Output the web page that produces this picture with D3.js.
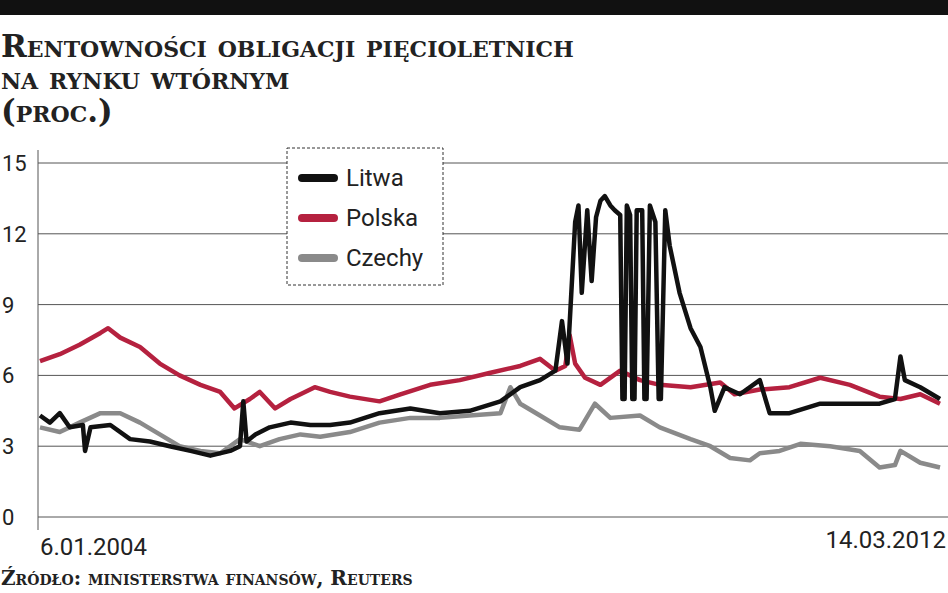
<!DOCTYPE html>
<html><head><meta charset="utf-8">
<script src="https://cdn.jsdelivr.net/npm/d3@7"></script>
<style>body{margin:0;background:#fff}</style></head><body>
<svg id="c" width="948" height="593"></svg>
<script>
const yTicks=[0,3,6,9,12,15];
const xLabels=["6.01.2004","14.03.2012"];
const seriesNames=["Litwa","Polska","Czechy"];
const seriesColors=["#111111","#b5213f","#8a8a8a"];
const litwa=[[2004.01,4.3],[2004.10,4.0],[2004.19,4.4],[2004.28,3.8],[2004.40,3.9],[2004.42,2.8],[2004.47,3.8],[2004.65,3.9],[2004.83,3.3],[2005.01,3.2],[2005.19,3.0],[2005.38,2.8],[2005.56,2.6],[2005.74,2.8],[2005.83,3.0],[2005.86,4.9],[2005.89,3.2],[2005.97,3.5],[2006.10,3.8],[2006.29,4.0],[2006.47,3.9],[2006.65,3.9],[2006.83,4.0],[2007.10,4.4],[2007.38,4.6],[2007.65,4.4],[2007.92,4.5],[2008.20,4.9],[2008.38,5.5],[2008.56,5.8],[2008.70,6.2],[2008.76,8.3],[2008.81,6.5],[2008.88,12.5],[2008.91,13.2],[2008.94,9.5],[2008.99,13.0],[2009.03,10],[2009.07,12.7],[2009.11,13.4],[2009.15,13.6],[2009.20,13.2],[2009.24,13.0],[2009.29,12.8],[2009.31,5],[2009.33,5],[2009.35,13.2],[2009.38,12.8],[2009.40,5],[2009.42,5],[2009.44,13.0],[2009.49,13.0],[2009.51,5],[2009.53,5],[2009.56,13.2],[2009.61,12.5],[2009.64,5],[2009.66,5],[2009.70,13],[2009.74,11.5],[2009.83,9.5],[2009.93,8],[2010.02,7.2],[2010.11,5.5],[2010.15,4.5],[2010.24,5.5],[2010.38,5.2],[2010.56,5.8],[2010.65,4.4],[2010.83,4.4],[2011.11,4.8],[2011.38,4.8],[2011.65,4.8],[2011.79,5.0],[2011.84,6.8],[2011.88,5.8],[2012.02,5.5],[2012.20,5.0]];
const polska=[[2004.01,6.6],[2004.19,6.9],[2004.37,7.3],[2004.56,7.8],[2004.63,8.0],[2004.74,7.6],[2004.92,7.2],[2005.10,6.5],[2005.28,6.0],[2005.47,5.6],[2005.65,5.3],[2005.78,4.6],[2005.92,5.0],[2006.01,5.3],[2006.15,4.6],[2006.29,5.0],[2006.38,5.2],[2006.51,5.5],[2006.65,5.3],[2006.83,5.1],[2007.10,4.9],[2007.29,5.2],[2007.56,5.6],[2007.83,5.8],[2008.10,6.1],[2008.38,6.4],[2008.56,6.7],[2008.70,6.2],[2008.79,6.4],[2008.83,7.7],[2008.88,6.5],[2008.97,5.9],[2009.11,5.6],[2009.29,6.2],[2009.47,5.8],[2009.65,5.6],[2009.93,5.5],[2010.20,5.7],[2010.33,5.2],[2010.56,5.4],[2010.83,5.5],[2011.11,5.9],[2011.38,5.6],[2011.65,5.1],[2011.84,5.0],[2012.02,5.2],[2012.20,4.8]];
const czechy=[[2004.01,3.8],[2004.19,3.6],[2004.37,4.0],[2004.56,4.4],[2004.74,4.4],[2004.92,4.0],[2005.10,3.5],[2005.28,3.0],[2005.47,2.8],[2005.65,2.7],[2005.83,3.3],[2006.01,3.0],[2006.19,3.3],[2006.38,3.5],[2006.56,3.4],[2006.83,3.6],[2007.10,4.0],[2007.38,4.2],[2007.65,4.2],[2007.92,4.3],[2008.20,4.4],[2008.29,5.5],[2008.38,4.8],[2008.56,4.3],[2008.74,3.8],[2008.92,3.7],[2009.06,4.8],[2009.20,4.2],[2009.47,4.3],[2009.65,3.8],[2009.93,3.3],[2010.11,3.0],[2010.29,2.5],[2010.47,2.4],[2010.56,2.7],[2010.74,2.8],[2010.93,3.1],[2011.20,3.0],[2011.47,2.8],[2011.65,2.1],[2011.79,2.2],[2011.84,2.8],[2012.02,2.3],[2012.20,2.1]];

const svg=d3.select("#c");
const x=d3.scaleLinear().domain([2004.01,2012.20]).range([40,940]);
const y=d3.scaleLinear().domain([0,15]).range([517,163]);
svg.append("rect").attr("x",0).attr("y",0).attr("width",948).attr("height",15).attr("fill","#111");
const tf="DejaVu Serif";
[["Rentowności obligacji pięcioletnich",57],["na rynku wtórnym",89],["(proc.)",122]].forEach(([t,yy])=>
 svg.append("text").attr("x",1).attr("y",yy).text(t).attr("font-family",tf).attr("font-weight","bold")
 .attr("font-size",31).style("font-variant","small-caps").attr("fill","#222"));
svg.append("g").selectAll("line").data(yTicks).join("line")
 .attr("x1",38).attr("x2",948).attr("y1",d=>y(d)).attr("y2",d=>y(d)).attr("stroke","#555").attr("stroke-width",1);
const nf="'Liberation Sans Narrow','Roboto',sans-serif";
svg.append("g").selectAll("text").data(yTicks).join("text").attr("x",2).attr("y",d=>y(d)+8)
 .text(d=>d).attr("font-family",nf).attr("font-size",22).attr("fill","#222");
svg.append("line").attr("x1",38).attr("x2",38).attr("y1",150).attr("y2",530).attr("stroke","#555");
svg.append("text").attr("x",40).attr("y",555).text(xLabels[0]).attr("font-family",nf).attr("font-size",24).attr("fill","#222");
svg.append("text").attr("x",946).attr("y",548).attr("text-anchor","end").text(xLabels[1]).attr("font-family",nf).attr("font-size",24).attr("fill","#222");
const line=d3.line().x(d=>x(d[0])).y(d=>y(d[1]));
[czechy,polska,litwa].forEach((s,i)=>{
 svg.append("path").attr("d",line(s)).attr("fill","none").attr("stroke",seriesColors[2-i]).attr("stroke-width",4.5).attr("stroke-linejoin","round");
});
svg.append("rect").attr("x",287).attr("y",148).attr("width",156).attr("height",137).attr("fill","#fff")
 .attr("stroke","#333").attr("stroke-dasharray","3,2");
seriesNames.forEach((n,i)=>{
 const ly=178+i*40;
 svg.append("line").attr("x1",302).attr("x2",334).attr("y1",ly).attr("y2",ly).attr("stroke",seriesColors[i]).attr("stroke-width",8).attr("stroke-linecap","round");
 svg.append("text").attr("x",346).attr("y",ly+8).text(n).attr("font-family",nf).attr("font-size",24).attr("fill","#222");
});
svg.append("text").attr("x",1).attr("y",585).text("Źródło: ministerstwa finansów, Reuters").attr("font-family",tf)
 .attr("font-weight","bold").attr("font-size",20).style("font-variant","small-caps").attr("fill","#222");
</script></body></html>
